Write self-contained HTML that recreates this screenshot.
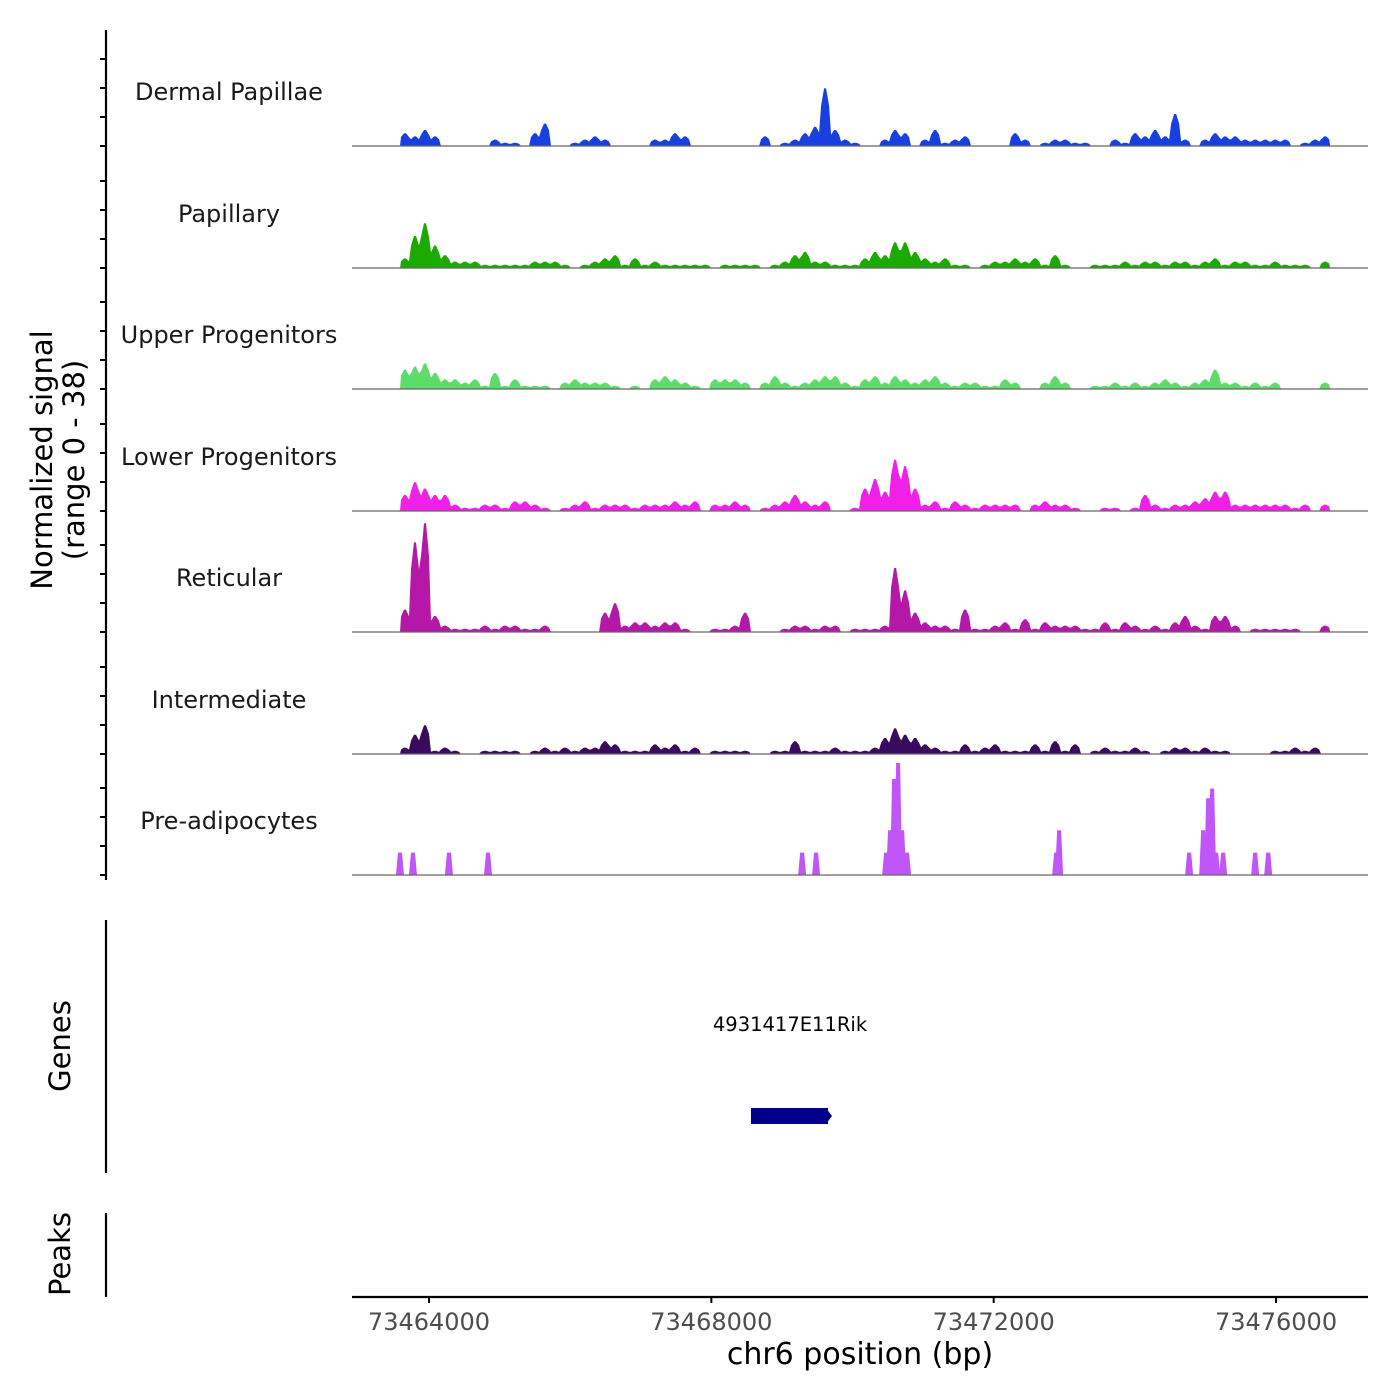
<!DOCTYPE html>
<html><head><meta charset="utf-8"><style>
html,body{margin:0;padding:0;background:#fff;}
svg{display:block;font-family:"DejaVu Sans","Liberation Sans",sans-serif;}
</style></head><body>
<svg id="chart" width="1400" height="1400" viewBox="0 0 1400 1400" xmlns="http://www.w3.org/2000/svg">
<rect width="1400" height="1400" fill="#fff"/>
<g id="tracks"></g>
<g id="axes"></g>
<text transform="translate(52,460) rotate(-90)" text-anchor="middle" font-size="29" fill="#000">Normalized signal</text>
<text transform="translate(84,460) rotate(-90)" text-anchor="middle" font-size="29" fill="#000">(range 0 - 38)</text>
<text transform="translate(70,1046) rotate(-90)" text-anchor="middle" font-size="29" fill="#000">Genes</text>
<text transform="translate(70,1254) rotate(-90)" text-anchor="middle" font-size="29" fill="#000">Peaks</text>
<text x="860" y="1364" text-anchor="middle" font-size="30" fill="#000">chr6 position (bp)</text>
<text x="790" y="1031" text-anchor="middle" font-size="19.5" fill="#000">4931417E11Rik</text>
<g>
<rect x="751" y="1108" width="77" height="16" fill="#00008b"/>
<path d="M826 1108 L832 1116 L826 1124 Z" fill="#00008b"/>
</g>
</svg>
<script>
const xTickValues = [73464000, 73468000, 73472000, 73476000];
const trackNames = ["Dermal Papillae","Papillary","Upper Progenitors","Lower Progenitors","Reticular","Intermediate","Pre-adipocytes"];
const trackColors = ["#1840e0","#1aaa00","#5ddc6a","#f020e8","#b518a8","#3a0a5e","#c055f8"];
const binStart = 73463589;
const binWidth = 141.7;
const dermalPapillae = [4,3,5,3,0,0,0,0,0,2, 1,1,0,4,7,0,0,1,2,3, 2,0,0,0,0,2,2,4,3,0, 0,0,0,0,0,0,3,0,1,2, 4,6,18,5,2,1,0,0,2,5, 4,0,2,5,1,2,3,0,0,0, 0,4,2,0,1,2,2,1,1,0, 0,2,1,4,3,5,3,10,2,0, 2,4,3,3,2,2,2,2,2,0, 1,2,3];
const papillary = [3,10,14,7,4,2,2,2,1,1, 1,1,1,2,2,2,1,0,1,2, 3,4,1,3,1,2,1,1,1,1, 1,0,1,1,1,1,0,1,2,4, 5,2,2,1,1,1,3,5,4,8, 8,5,3,2,3,1,1,0,1,2, 2,3,2,3,1,4,1,0,0,1, 1,1,2,1,2,2,1,2,2,1, 2,3,1,2,2,1,1,2,1,1, 1,0,2];
const upperProgenitors = [6,7,8,5,3,3,2,3,1,5, 1,3,1,1,1,0,2,3,2,2, 2,1,0,1,0,3,4,3,2,1, 0,3,3,3,2,0,2,4,2,1, 2,3,4,4,2,1,3,4,2,4, 3,2,3,4,2,1,2,2,1,1, 3,2,0,0,2,4,2,0,0,1, 1,2,1,2,1,2,3,2,1,2, 3,6,2,2,1,2,1,2,0,0, 0,0,2];
const lowerProgenitors = [5,9,7,5,5,2,1,1,2,2, 1,3,3,2,1,0,1,2,3,1, 2,2,2,1,2,2,2,3,2,3, 0,2,2,3,2,0,1,2,3,5, 3,2,3,0,0,1,7,10,6,16, 14,7,2,3,1,3,2,1,2,2, 2,2,0,2,3,2,2,1,0,0, 1,1,0,1,5,2,1,2,2,3, 4,6,6,2,2,2,2,2,2,1, 2,0,2];
const reticular = [7,28,34,5,2,1,1,1,2,1, 2,2,1,1,2,0,0,0,0,0, 6,9,2,3,3,2,3,3,1,0, 0,1,1,2,6,0,0,0,1,2, 2,1,2,2,0,1,1,1,2,20, 13,6,3,2,2,1,7,1,1,2, 3,1,4,1,3,2,2,2,1,1, 3,1,3,2,1,2,1,3,5,2, 1,5,5,2,0,1,1,1,1,1, 0,0,2];
const intermediate = [2,6,9,1,2,1,0,0,1,1, 1,1,0,1,2,1,2,1,2,2, 4,3,1,1,1,3,2,3,1,2, 0,1,1,1,1,0,0,1,1,4, 1,1,1,2,1,1,1,2,5,8, 6,5,3,2,1,1,3,1,2,3, 1,1,1,3,1,4,1,3,0,1, 2,1,1,2,1,0,1,2,2,1, 2,1,1,0,0,0,0,1,1,2, 1,2,0];
const preAdiPositions = [73463589,73463773,73464283,73464836,73469286,73469484,73470476,73470532,73470589,73470646,73470703,73470773,73472885,73472927,73474769,73474968,73475039,73475095,73475152,73475251,73475704,73475889];
const preAdiHeights = [7,7,7,7,7,7,7,14,30,35,14,7,7,14,7,14,24,27,7,7,7,7];
const binnedTracks = [dermalPapillae,papillary,upperProgenitors,lowerProgenitors,reticular,intermediate];

const NS="http://www.w3.org/2000/svg";
const X0=352,X1=1368,D0=73462909,D1=73477303;
const xScale=v=>X0+(v-D0)/(D1-D0)*(X1-X0);
const baselines=[146,268,389,511,632,754,875];
const unitPx=3.2;
const yScale=(v,b)=>b-v*unitPx;
const tracks=document.getElementById('tracks');
const axes=document.getElementById('axes');
function mk(tag,attrs,parent){const e=document.createElementNS(NS,tag);for(const k in attrs)e.setAttribute(k,attrs[k]);parent.appendChild(e);return e;}

binnedTracks.forEach((arr,t)=>{
  const b=baselines[t];
  let d=`M${xScale(binStart)} ${b}`;
  arr.forEach((v,i)=>{
    const xa=xScale(binStart+i*binWidth), xb=xScale(binStart+(i+1)*binWidth);
    const xm=(xa+xb)/2;
    const s=v>0?yScale(v*0.7,b):b;
    d+=` L${xa+1} ${s} L${xm-1} ${yScale(v,b)} L${xm+1} ${yScale(v,b)} L${xb-1} ${s}`;
  });
  d+=` L${xScale(binStart+arr.length*binWidth)} ${b} Z`;
  const p=mk('path',{d:d,fill:trackColors[t]},tracks);
  
  
});
{
  const b=baselines[6];
  preAdiPositions.forEach((pos,i)=>{
    const xc=xScale(pos), h=preAdiHeights[i];
    const p=mk('path',{d:`M${xc-4} ${b} L${xc-2} ${yScale(h,b)} L${xc+2} ${yScale(h,b)} L${xc+4} ${b} Z`,fill:trackColors[6]},tracks);
    
    
  });
}
baselines.forEach((b,t)=>{
  const l=mk('line',{x1:X0,x2:X1,y1:b,y2:b,stroke:'#666','stroke-width':1.2},tracks);
  
  
  const tx=mk('text',{x:229,y:b-46,'text-anchor':'middle','font-size':24,fill:'#1a1a1a'},tracks);
  tx.textContent=trackNames[t];
  
  
  [0,29,58,87].forEach(o=>{
    const tk=mk('line',{x1:100,x2:106,y1:b-o,y2:b-o,stroke:'#000','stroke-width':2},axes);
    
    
  });
});
[[30,880],[920,1173],[1213,1297]].forEach(([a,c])=>{
  const l=mk('line',{x1:106,x2:106,y1:a,y2:c,stroke:'#000','stroke-width':2.2},axes);
  
  
});
const xl=mk('line',{x1:X0,x2:X1,y1:1297,y2:1297,stroke:'#000','stroke-width':2.2},axes);


xTickValues.forEach(v=>{
  const x=xScale(v);
  const tk=mk('line',{x1:x,x2:x,y1:1297,y2:1303,stroke:'#000','stroke-width':2},axes);
  
  
  const tx=mk('text',{x:x,y:1330,'text-anchor':'middle','font-size':24,fill:'#4d4d4d'},axes);
  tx.textContent=String(v);
  
  
});
</script>
</body></html>
